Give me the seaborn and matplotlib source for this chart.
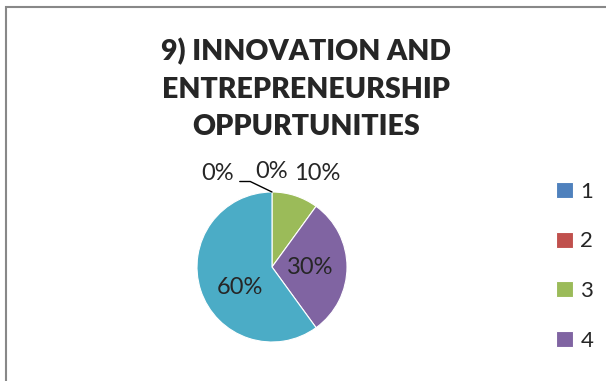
import numpy as np
import matplotlib
matplotlib.use('Agg')
import matplotlib.pyplot as plt
import seaborn as sns
from matplotlib.patches import Rectangle

# Data
categories = ['1', '2', '3', '4', '5']
shares = [0, 0, 10, 30, 60]
colors = ['#4F81BD', '#C0504D', '#9BBB59', '#8064A2', '#4BACC6']
title = '9) INNOVATION AND\nENTREPRENEURSHIP\nOPPURTUNITIES'

sns.set_style('white')
plt.rcParams['font.family'] = ['Lato', 'DejaVu Sans']

fig = plt.figure(figsize=(6.06, 3.81), dpi=100)
W, H = 606, 381

# chart-area border (right and bottom edges run off the image)
fig.patches.append(Rectangle((6 / W, -0.1), 1.2, (H - 7) / H + 0.1, transform=fig.transFigure,
                             fill=False, edgecolor='#888888', linewidth=1.5))

# pie axes: centre (272, 267) px, radius 75 px
ax = fig.add_axes([(272 - 75) / W, (H - 267 - 75) / H, 150 / W, 150 / H])
wedges, _ = ax.pie(shares, colors=colors, startangle=90, counterclock=False,
                   wedgeprops=dict(linewidth=0.8, edgecolor='white'))
ax.set_xlim(-1, 1)
ax.set_ylim(-1, 1)
ax.set_aspect('auto')

# data labels
label_pos = [(-0.73, 1.25), (-0.01, 1.27), (0.60, 1.25), (0.51, -0.01), (-0.43, -0.27)]
for s, (x, y) in zip(shares, label_pos):
    ax.text(x, y, f'{s}%', ha='center', va='center', fontsize=17, clip_on=False)

# leader line for the first zero slice
ax.plot([0, -0.29, -0.43], [1.0, 1.14, 1.14], color='black', linewidth=1, clip_on=False)

fig.text(306 / W, (H - 89) / H, title, ha='center', va='center', fontsize=20.5,
         fontweight='heavy', linespacing=1.55)

# only the first four legend entries fit inside the visible chart area
fig.legend(wedges[:4], categories[:4], loc='upper left', bbox_to_anchor=(547 / W, (H - 173) / H),
           frameon=False, fontsize=16, handlelength=0.75, handleheight=0.75,
           handletextpad=0.35, labelspacing=1.33, borderaxespad=0)

fig.savefig('out.png', dpi=100)
